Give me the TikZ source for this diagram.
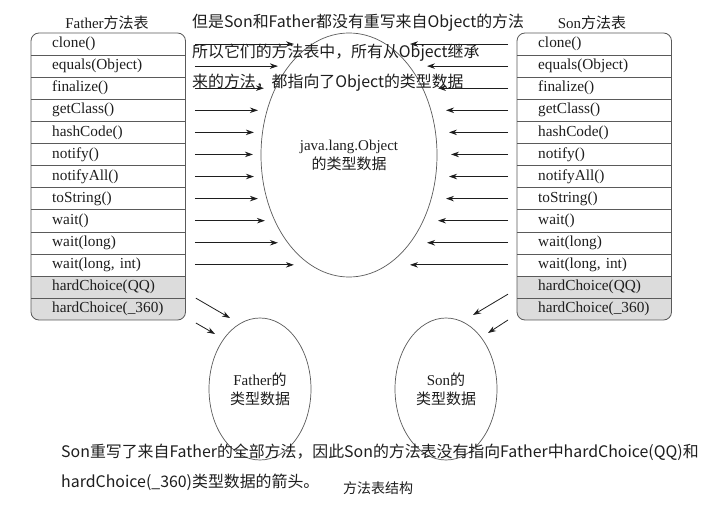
\documentclass[tikz,border=0pt]{standalone}
\usepackage{fontspec}
\setmainfont{Liberation Serif}
\newfontfamily\cjk{Noto Sans CJK SC}
\usetikzlibrary{shapes.geometric,arrows.meta,calc}
\definecolor{tline}{HTML}{5A5A5A}
\definecolor{grayfill}{HTML}{DCDCDC}
\definecolor{ink}{HTML}{1E1E1E}
\tikzset{
  row/.style={anchor=west, minimum width=154.5pt, text width=154.5pt, inner xsep=0pt, inner ysep=0pt,
    minimum height=22.08pt, align=left, font=\fontsize{15.3}{18}\selectfont, text=ink},
  arr/.style={draw=ink, line width=0.8pt, -{Stealth[length=8pt,width=5.5pt]}},
  oval/.style={ellipse, draw=tline, line width=0.7pt, inner sep=0pt, align=center,
    font=\fontsize{15}{19}\selectfont, text=ink},
  note/.style={anchor=west, inner sep=0pt, font=\cjk\fontsize{15.9}{20}\selectfont, text=ink},
  ttl/.style={inner sep=0pt, font=\fontsize{15}{18}\selectfont, text=ink},
}
\begin{document}
\begin{tikzpicture}[x=1pt,y=-1pt]
\useasboundingbox[fill=white] (0,0) rectangle (720,508);
% tables
\foreach \p/\x in {f/31,s/517}{
  \begin{scope}
    \clip[rounded corners=8pt] (\x,33) rectangle ++(154.5,287);
    \fill[grayfill] (\x,277.2) rectangle ++(154.5,43);
  \end{scope}
  \foreach \t [count=\i] in {clone(),equals(Object),finalize(),getClass(),hashCode(),notify(),notifyAll(),toString(),wait(),wait(long),{wait(long, int)},hardChoice(QQ),hardChoice(\_360)}{
    \node[row] (\p\i) at (\x,{33+22.08*(\i-0.5)}) {\hspace*{21pt}\t};
  }
  \foreach \i in {1,...,12} \draw[tline, line width=0.7pt] (\p\i.south west) -- (\p\i.south east);
  \draw[tline, line width=0.8pt, rounded corners=8pt] (\x,33) rectangle ++(154.5,287);
}
% titles
\node[ttl] (ft) at (107,23) {Father{\cjk 方法表}};
\node[ttl] (st) at (592,23) {Son{\cjk 方法表}};
% ellipses
\node[oval, minimum width=176pt, minimum height=244pt] (obj) at (349,155) {java.lang.Object\\{\cjk 的类型数据}};
\node[oval, minimum width=102pt, minimum height=142pt] (fo) at (260,389) {Father{\cjk 的}\\{\cjk 类型数据}};
\node[oval, minimum width=102pt, minimum height=142pt] (so) at (446,389) {Son{\cjk 的}\\{\cjk 类型数据}};
% horizontal arrows
\foreach \i/\l in {1/99,2/83,3/69,4/63,5/59,6/58,7/59,8/63,9/70,10/83,11/99}
  \draw[arr] ([xshift=9pt]f\i.east) -- ++(\l,0);
\foreach \i/\l in {1/98,2/81,3/70,4/62,5/59,6/57,7/59,8/62,9/70,10/81,11/98}
  \draw[arr] ([xshift=-9pt]s\i.west) -- ++(-\l,0);
% diagonal arrows
\draw[arr] ($(f12.south east)+(10,0)$) -- ($(fo.center)+(-30,-71)$);
\draw[arr] ($(f13.east)+(10,14)$) -- ($(fo.center)+(-45,-55)$);
\draw[arr] ($(s12.south west)+(-9,-4)$) -- ($(so.center)+(27,-74)$);
\draw[arr] ($(s13.west)+(-9,11)$) -- ($(so.center)+(42,-56)$);
% notes
\node[note] (n1) at (192,23) {但是Son和Father都没有重写来自Object的方法};
\node[note] (n2) at (192,53) {所以它们的方法表中，所有从Object继承};
\node[note] (n3) at (192,83) {来的方法，都指向了Object的类型数据};
\node[note] (b1) at (61,452) {Son重写了来自Father的全部方法，因此Son的方法表没有指向Father中hardChoice(QQ)和};
\node[note] (b2) at (61,482) {hardChoice(\_360)类型数据的箭头。};
\node[inner sep=0pt, font=\cjk\fontsize{14}{16}\selectfont, text=ink] (cap) at (378,488) {方法表结构};
\end{tikzpicture}
\end{document}
